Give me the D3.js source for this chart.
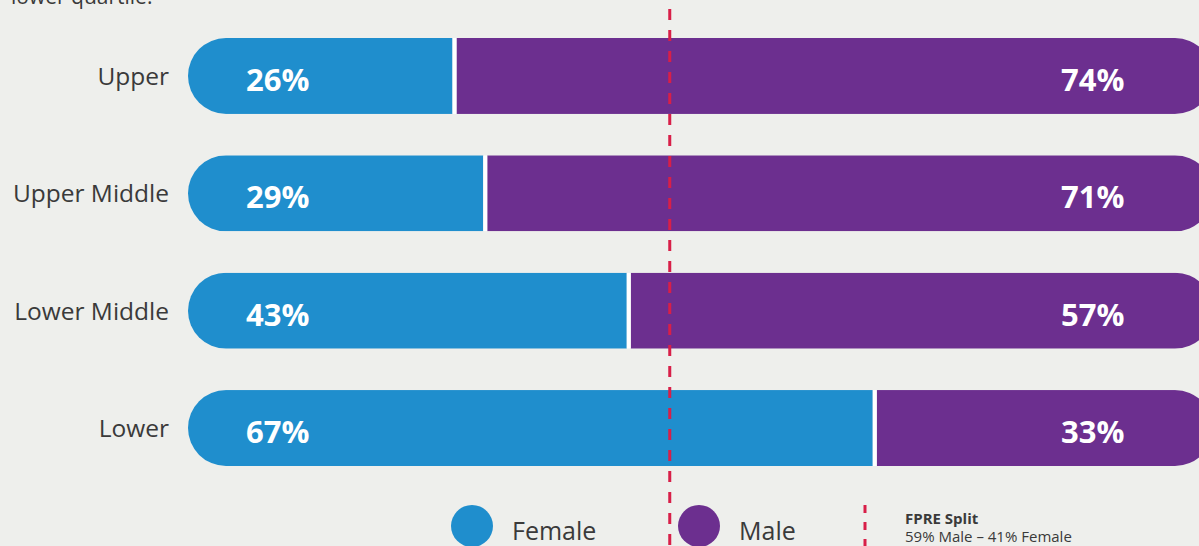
<!DOCTYPE html>
<html>
<head>
<meta charset="utf-8">
<script src="https://cdn.jsdelivr.net/npm/d3@7"></script>
<style>
  html, body { margin: 0; padding: 0; background: #eeefec; overflow: hidden; }
  svg { display: block; font-family: "Open Sans", "Noto Sans", sans-serif; }
</style>
</head>
<body>
<svg width="1199" height="546"></svg>
<script>
const quartiles = ["Upper", "Upper Middle", "Lower Middle", "Lower"];
const female = [26, 29, 43, 67];
const male = [74, 71, 57, 33];
const seriesNames = ["Female", "Male"];
const fpreLineValue = 47; // where the dashed line sits on the bar scale
const fpreTitle = "FPRE Split";
const fpreText = "59% Male \u2013 41% Female";
const topText = "lower quartile.";

const colors = { Female: "#1f8ecd", Male: "#6c2f8f" };
const lineColor = "#d81f48";
const textColor = "#3a3a3a";

const svg = d3.select("svg");
const width = +svg.attr("width");
const height = +svg.attr("height");

const data = quartiles.map((q, i) => ({ quartile: q, female: female[i], male: male[i] }));

const xScale = d3.scaleLinear().domain([0, 100]).range([188, 1213]);
const yScale = d3
  .scaleBand()
  .domain(quartiles)
  .range([38, 466])
  .paddingInner(0.353)
  .paddingOuter(0);

const bh = yScale.bandwidth();
const gap = 4;

// cut-off paragraph line at the very top
svg
  .append("text")
  .attr("x", 11)
  .attr("y", 4)
  .style("font-size", "21px")
  .attr("fill", textColor)
  .text(topText);

const defs = svg.append("defs");
defs
  .selectAll("clipPath")
  .data(data)
  .enter()
  .append("clipPath")
  .attr("id", (d, i) => "clip" + i)
  .append("rect")
  .attr("x", xScale(0))
  .attr("y", d => yScale(d.quartile))
  .attr("width", xScale(100) - xScale(0))
  .attr("height", bh)
  .attr("rx", bh / 2)
  .attr("ry", bh / 2);

const rows = svg
  .selectAll("g.row")
  .data(data)
  .enter()
  .append("g")
  .attr("class", "row")
  .attr("clip-path", (d, i) => `url(#clip${i})`);

rows
  .append("rect")
  .attr("x", xScale(0))
  .attr("y", d => yScale(d.quartile))
  .attr("width", d => xScale(d.female) - xScale(0) - gap / 2)
  .attr("height", bh)
  .attr("fill", colors.Female);

rows
  .append("rect")
  .attr("x", d => xScale(d.female) + gap / 2)
  .attr("y", d => yScale(d.quartile))
  .attr("width", d => xScale(100) - xScale(d.female) - gap / 2)
  .attr("height", bh)
  .attr("fill", colors.Male);

rows
  .append("rect")
  .attr("x", d => xScale(d.female) - gap / 2)
  .attr("y", d => yScale(d.quartile))
  .attr("width", gap)
  .attr("height", bh)
  .attr("fill", "#ffffff");

// category labels
svg
  .selectAll("text.cat")
  .data(data)
  .enter()
  .append("text")
  .attr("class", "cat")
  .attr("x", 169)
  .attr("y", d => yScale(d.quartile) + bh / 2 + 9)
  .attr("text-anchor", "end")
  .style("font-size", "24.5px")
  .attr("fill", textColor)
  .text(d => d.quartile);

// value labels
svg
  .selectAll("text.fval")
  .data(data)
  .enter()
  .append("text")
  .attr("class", "fval")
  .attr("x", 246)
  .attr("y", d => yScale(d.quartile) + bh / 2 + 15)
  .style("font-size", "31px")
  .style("font-weight", "700")
  .attr("fill", "#ffffff")
  .text(d => d.female + "%");

svg
  .selectAll("text.mval")
  .data(data)
  .enter()
  .append("text")
  .attr("class", "mval")
  .attr("x", 1061)
  .attr("y", d => yScale(d.quartile) + bh / 2 + 15)
  .style("font-size", "31px")
  .style("font-weight", "700")
  .attr("fill", "#ffffff")
  .text(d => d.male + "%");

// FPRE split line
svg
  .append("line")
  .attr("x1", xScale(fpreLineValue))
  .attr("x2", xScale(fpreLineValue))
  .attr("y1", 9)
  .attr("y2", height)
  .attr("stroke", lineColor)
  .attr("stroke-width", 3)
  .attr("stroke-dasharray", "11,10");

// legend
const legend = svg.append("g");
const legendX = [472, 699];
const items = legend
  .selectAll("g.item")
  .data(seriesNames)
  .enter()
  .append("g")
  .attr("class", "item")
  .attr("transform", (d, i) => `translate(${legendX[i]},526)`);

items
  .append("circle")
  .attr("r", 21)
  .attr("fill", d => colors[d]);

items
  .append("text")
  .attr("x", 40)
  .attr("y", 14)
  .style("font-size", "25px")
  .attr("fill", textColor)
  .text(d => d);

legend
  .append("line")
  .attr("x1", 865)
  .attr("x2", 865)
  .attr("y1", 505)
  .attr("y2", height)
  .attr("stroke", lineColor)
  .attr("stroke-width", 3)
  .attr("stroke-dasharray", "8,9");

legend
  .append("text")
  .attr("x", 905)
  .attr("y", 524)
  .style("font-size", "15px")
  .style("font-weight", "700")
  .attr("fill", textColor)
  .text(fpreTitle);

legend
  .append("text")
  .attr("x", 905)
  .attr("y", 542)
  .style("font-size", "15px")
  .attr("fill", textColor)
  .text(fpreText);
</script>
</body>
</html>
